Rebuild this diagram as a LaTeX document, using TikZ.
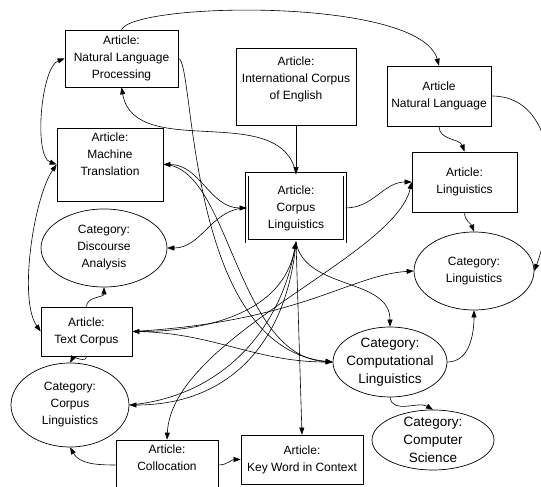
\documentclass[tikz,border=0pt]{standalone}
\usepackage{fontspec}
\setmainfont{Liberation Sans}
\usepackage{tikz}
\usetikzlibrary{arrows.meta, shapes.geometric}
\tikzset{
    article/.style={draw, fill=white, align=center, inner sep=2pt, line width=0.7pt}, % 条目节点的样式
    category/.style={ellipse, draw, fill=white, align=center, inner sep=0pt, line width=0.7pt}, % 分类节点的样式
    big text/.style={font=\fontsize{13.5}{18}\selectfont}, % 较大的字
    link/.style={line width=0.6pt} % 连线的样式
}

\begin{document}
\begin{tikzpicture}[x=1pt, y=1pt, font=\fontsize{12}{17}\selectfont, >={Triangle[length=7pt, width=5pt]}]
            \def\W{541} \def\H{487}
            \path[use as bounding box, fill=white] (0,0) rectangle (\W,\H);

            \node[article, minimum width=113, minimum height=57] (nlp) at (121.5,428.5) {Article:\\Natural Language\\Processing};
            \node[article, minimum width=106, minimum height=73, text depth=20pt] (mt) at (110,322.5) {Article:\\Machine\\Translation};
            \node[article, minimum width=120, minimum height=77, text depth=16pt] (ice) at (296,400.5) {Article:\\International Corpus\\of English};
            \node[article, minimum width=104, minimum height=60] (nl) at (439,391) {Article\\Natural Language};
            \node[article, double, double distance=2.6pt, minimum width=98, minimum height=67] (cl) at (296,279) {Article:\\Corpus\\Linguistics};
            \node[article, minimum width=105, minimum height=60] (ling) at (464.5,305) {Article:\\Linguistics};
            \node[category, minimum width=126, minimum height=78] (da) at (104,239) {Category:\\Discourse\\Analysis};
            \node[article, minimum width=91, minimum height=49] (tc) at (86.5,155.5) {Article:\\Text Corpus};
            \node[category, minimum width=120, minimum height=78] (catling) at (474,216) {Category:\\Linguistics};
            \node[category, big text, inner sep=-4pt, minimum width=114, minimum height=70] (compling) at (390,125) {Category:\\Computational\\Linguistics};
            \node[category, minimum width=118, minimum height=84] (ccl) at (70,82) {Category:\\Corpus\\Linguistics};
            \node[category, big text, inner sep=-5pt, minimum width=122, minimum height=60] (cs) at (433,47) {Category:\\Computer\\Science};
            \node[article, minimum width=102, minimum height=50, text depth=15pt] (coll) at (167,22) {Article:\\Collocation};
            \node[article, minimum width=122, minimum height=49] (kwic) at (302,27.5) {Article:\\Key Word in Context};

            \draw[link, ->] (nlp.north) .. controls (135,485) and (420,490) .. (nl.north);
            \draw[link, <->] (nlp.west) to[out=200, in=160, looseness=0.6] (mt.west);
            \draw[link, ->] (cl.north) to[out=100, in=-80] (nlp.south);
            \draw[link, ->] (ice.south) -- (cl.north);
            \draw[link, ->] (nlp.east) .. controls (195,429) and (185,140) .. (compling.west);
            \draw[link, <->] (mt.east) to[out=0, in=180] (cl.west);
            \draw[link, ->] (mt.east) .. controls (230,322) and (235,130) .. (compling.west);
            \draw[link, ->] (cl.west) to[out=180, in=0] (da.east);
            \draw[link, <->] (mt.west) to[out=235, in=125, looseness=0.6] (tc.west);
            \draw[link, ->] (tc.north) to[out=90, in=-90] (da.south);
            \draw[link, ->] (tc.south) to[out=-90, in=60] (ccl.north);
            \draw[link, <->] (cl.south) to[out=-100, in=0] (tc.east);
            \draw[link, ->] (tc.east) .. controls (300,165) and (350,212) .. (catling.west);
            \draw[link, ->] (tc.east) to[out=0, in=180] (compling.west);
            \draw[link, ->] (cl.south) to[out=-95, in=0, looseness=1.1] (ccl.east);
            \draw[link, <-] (cl.south) to[out=-100, in=5] (ccl.east);
            \draw[link, <->] (coll.north) .. controls (172,150) and (395,230) .. (ling.west);
            \draw[link, ->] (cl.south) -- (kwic.north);
            \draw[link, ->] (cl.south) to[out=-80, in=90] (compling.north);
            \draw[link, ->] (cl.east) to[out=0, in=180] (ling.west);
            \draw[link, ->] (nl.east) to[out=0, in=70] (catling.east);
            \draw[link, ->] (nl.south) to[out=-90, in=110] (ling.north);
            \draw[link, ->] (ling.south) to[out=-90, in=110] (catling.north);
            \draw[link, ->] (compling.east) to[out=0, in=-90] (catling.south);
            \draw[link, ->] (compling.south) to[out=-80, in=150] (cs.north);
            \draw[link, ->] (coll.west) to[out=180, in=-60] (ccl.south);
            \draw[link, ->] (coll.east) to[out=0, in=180] (kwic.west);
        \end{tikzpicture}
\end{document}
